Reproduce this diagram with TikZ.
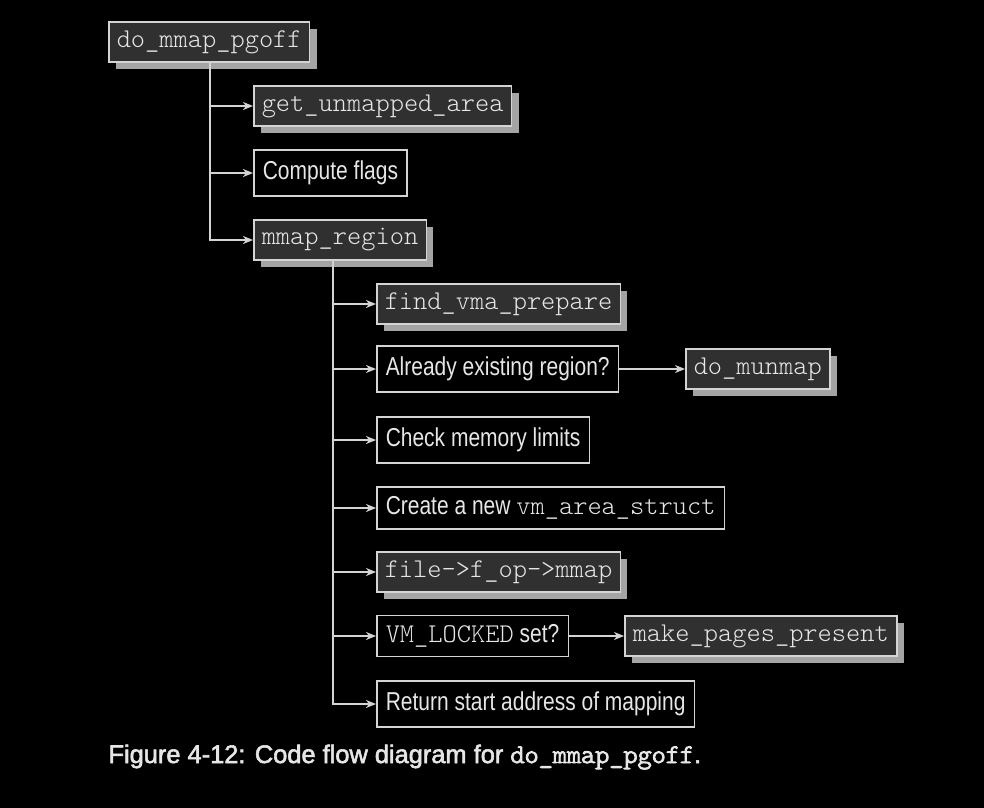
\documentclass[tikz,border=0pt]{standalone}
\usepackage{fontspec}
\setmainfont{Liberation Sans}
\setmonofont{Latin Modern Mono Light}
\newfontfamily\condfont[FakeStretch=0.81]{Liberation Sans}
\newfontfamily\capfont[FakeBold=2.2]{Liberation Sans}
\newfontfamily\capmono[FakeBold=3.5]{Latin Modern Mono Light}
\usetikzlibrary{arrows.meta,shadows}
\definecolor{boxgray}{HTML}{303030}
\definecolor{linegray}{HTML}{D4D4D4}
\definecolor{shadowgray}{HTML}{A4A4A4}
\definecolor{textgray}{HTML}{E6E6E6}
\newcommand{\code}[1]{{\ttfamily\fontsize{27.2}{27.2}\selectfont #1}}

\begin{document}
\begin{tikzpicture}[x=1bp,y=-1bp,
  >={Stealth[length=10bp,width=8bp,inset=3bp]},
  every node/.style={text=textgray},
  func/.style={draw=linegray, line width=1.5bp, fill=boxgray, rectangle, anchor=west,
    minimum height=40bp, inner xsep=8bp, inner ysep=0pt,
    font=\ttfamily\fontsize{27.2}{27.2}\selectfont,
    drop shadow={shadow xshift=7bp, shadow yshift=-7bp, fill=shadowgray, opacity=1}},
  stmt/.style={draw=linegray, line width=1.5bp, fill=black, rectangle, anchor=west,
    minimum height=46bp, inner xsep=9bp, inner ysep=0pt,
    font=\condfont\fontsize{26}{26}\selectfont},
  link/.style={->, draw=linegray, line width=2bp}]
\fill[black] (0,0) rectangle (984,808);
\useasboundingbox (0,0) rectangle (984,808);

% do_mmap_pgoff
\node[func] (pgoff) at (108,42) {do\_mmap\_pgoff};
\node[func] (unmapped) at (253,106) {get\_unmapped\_area};
\node[stmt] (flags) at (253,173) {Compute flags};
\node[func] (region) at (253,240) {mmap\_region};

% mmap_region
\node[func] (vmaprep) at (376,304) {find\_vma\_prepare};
\node[stmt] (exists) at (376,369) {Already existing region?};
\node[func] (munmap) at (685,369) {do\_munmap};
\node[stmt] (limits) at (376,440) {Check memory limits};
\node[stmt, minimum height=42bp] (newvma) at (376,508) {Create a new \code{vm\_area\_struct}};
\node[func] (fopmmap) at (376,572) {file->f\_op->mmap};
\node[stmt, minimum height=41bp] (locked) at (376,636) {\code{VM\_LOCKED} set?};
\node[func] (mkpages) at (624,636) {make\_pages\_present};
\node[stmt] (retaddr) at (376,704) {Return start address of mapping};

\coordinate (forkA) at (210,0);
\coordinate (forkB) at (333,0);
\foreach \n in {unmapped,flags,region}
  \draw[link] (pgoff.south -| forkA) |- (\n.west);
\foreach \n in {vmaprep,exists,limits,newvma,fopmmap,locked,retaddr}
  \draw[link] (region.south -| forkB) |- (\n.west);
\draw[link, line width=1.3bp] (exists) -- (munmap);
\draw[link, line width=1.3bp] (locked) -- (mkpages);

\node[anchor=base west, font=\capfont\fontsize{25.5}{25.5}\selectfont] (caption) at (105,763)
  {Figure 4-12: Code flow diagram for {\capmono\fontsize{27}{27}\selectfont do\_mmap\_pgoff}.};
\end{tikzpicture}
\end{document}
